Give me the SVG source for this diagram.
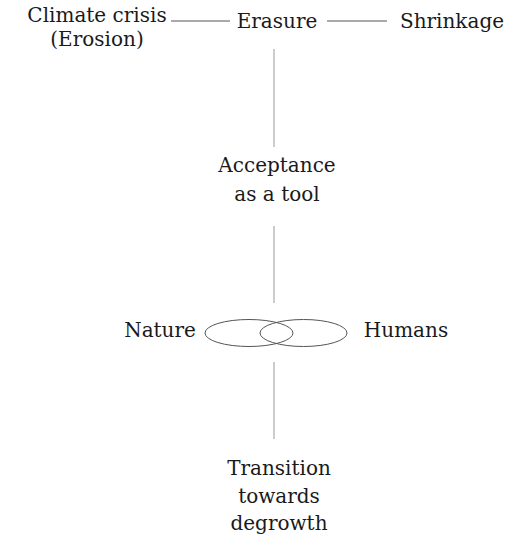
<svg xmlns="http://www.w3.org/2000/svg" width="526" height="545" viewBox="0 0 526 545">
<style>
.t{font-size:20px;fill:#1a1a1a;text-anchor:middle}
.h{stroke:#555;stroke-width:1}
.v{stroke:#aaa;stroke-width:1.2}
ellipse{fill:none;stroke:#555;stroke-width:1}
</style>
<rect width="526" height="545" fill="#fff"/>
<g id="connectors">
<line class="h" x1="171" y1="21" x2="230" y2="21"/>
<line class="h" x1="327" y1="21" x2="387" y2="21"/>
<line class="v" x1="274" y1="49" x2="274" y2="147"/>
<line class="v" x1="274" y1="226" x2="274" y2="303"/>
<line class="v" x1="274" y1="362" x2="274" y2="439"/>
</g>
<g class="t" font-family="'DejaVu Serif', serif">
<g id="climate"><text x="97" y="22">Climate crisis</text><text x="97" y="46">(Erosion)</text></g>
<g id="erasure"><text x="277" y="28">Erasure</text></g>
<g id="shrinkage"><text x="452" y="28">Shrinkage</text></g>
<g id="acceptance"><text x="277" y="172">Acceptance</text><text x="277" y="201">as a tool</text></g>
<g id="nature"><text x="160" y="337">Nature</text></g>
<g id="humans"><text x="406" y="337">Humans</text></g>
<g id="transition"><text x="279" y="475">Transition</text><text x="279" y="503">towards</text><text x="279" y="530">degrowth</text></g>
</g>
<g id="venn"><ellipse cx="249" cy="333" rx="44" ry="13.5"/><ellipse cx="303.5" cy="333" rx="43.5" ry="13.5"/></g>
</svg>
